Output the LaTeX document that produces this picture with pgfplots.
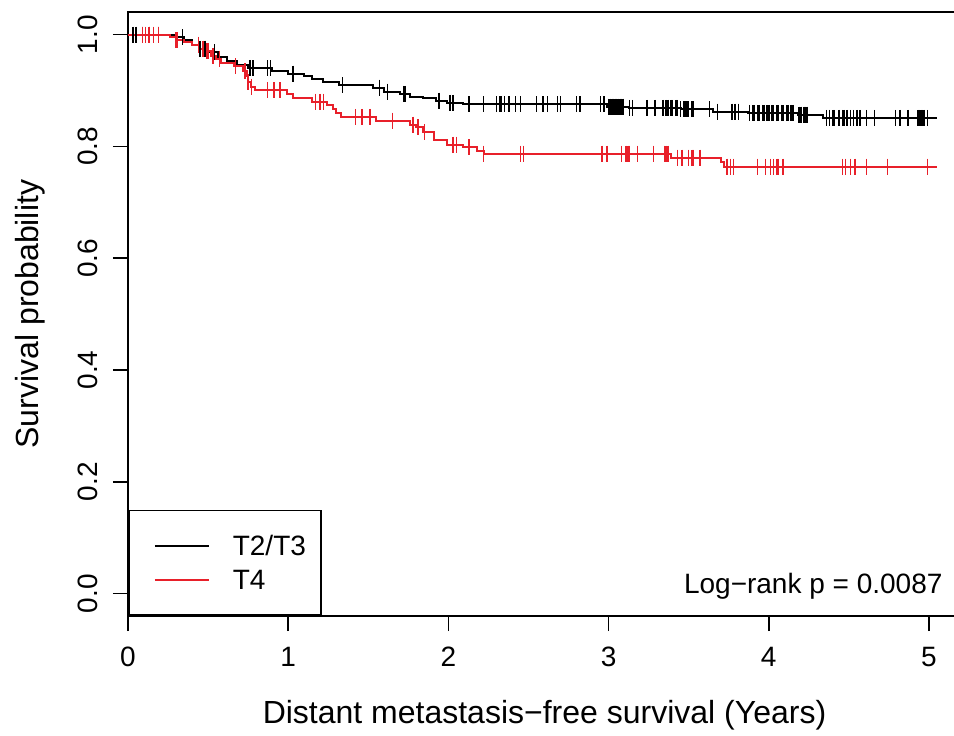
\documentclass[border=0pt]{standalone}
\usepackage{fontspec}
\setmainfont{Liberation Sans}
\usepackage{pgfplots}
\pgfplotsset{compat=1.18}
\definecolor{kmred}{HTML}{E8202A}

\begin{document}
\begin{tikzpicture}
\begin{axis}[name=ax, scale only axis, width=416.5pt, height=301.9pt,
  xmin=0, xmax=5.2, ymin=-0.04, ymax=1.04,
  xtick={0,1,2,3,4,5}, ytick={0,0.2,0.4,0.6,0.8,1.0},
  tick pos=left, tick align=outside, major tick length=7.5pt,
  axis line style={line width=0.8pt}, every tick/.style={black,line width=0.8pt},
  /pgf/number format/assume math mode=true,
  tick label style={font=\fontsize{14}{17}\selectfont},
  yticklabel style={rotate=90, anchor=south, /pgf/number format/.cd, fixed, fixed zerofill, precision=1},
  xticklabel shift=4.5pt, yticklabel shift=4.3pt,
  xlabel={Distant metastasis−free survival (Years)},
  ylabel={Survival probability},
  every axis x label/.style={at={(axis description cs:0.5,-0.164)}, anchor=center, font=\fontsize{16}{19}\selectfont},
  every axis y label/.style={at={(axis description cs:-0.1176,0.5)}, rotate=90, anchor=center, font=\fontsize{16}{19}\selectfont},
  legend style={at={(0,0)}, anchor=south west, draw=black, line width=0.8pt,
    font=\fontsize{14}{17}\selectfont, inner xsep=7.5pt, inner ysep=12.7pt,
    row sep=7pt, column sep=11.5pt,
    nodes={inner sep=0pt, text height=10pt, text depth=0pt}},
  legend cell align=left,
  legend image code/.code={\path (0pt,0pt); \draw[#1,line width=1pt] (5pt,0pt) -- (32pt,0pt);},
]
% T2/T3 curve
\addplot[black, line width=1pt, const plot] coordinates {
(0,1.0) (0.30,0.995) (0.35,0.990) (0.40,0.982) (0.45,0.975) (0.50,0.968)
(0.56,0.960) (0.62,0.952) (0.68,0.945) (0.75,0.940) (0.90,0.935) (1.00,0.930)
(1.10,0.925) (1.15,0.920) (1.22,0.915) (1.32,0.909) (1.53,0.905) (1.60,0.898)
(1.70,0.894) (1.76,0.889) (1.84,0.886) (1.92,0.882) (1.99,0.878) (2.09,0.875)
(2.99,0.871) (3.13,0.869) (3.45,0.866) (3.65,0.862) (3.87,0.860) (4.18,0.857)
(4.34,0.851) (5.05,0.851)};
\addlegendentry{T2/T3}
% T4 curve
\addplot[kmred, line width=1pt, const plot] coordinates {
(0,1.0) (0.26,0.995) (0.30,0.990) (0.35,0.987) (0.40,0.982) (0.45,0.975)
(0.48,0.970) (0.52,0.962) (0.55,0.956) (0.58,0.950) (0.66,0.943) (0.72,0.935)
(0.74,0.925) (0.75,0.915) (0.77,0.907) (0.79,0.900) (0.99,0.893) (1.03,0.887)
(1.15,0.880) (1.24,0.874) (1.28,0.866) (1.30,0.860) (1.33,0.853) (1.55,0.846)
(1.76,0.839) (1.80,0.834) (1.84,0.826) (1.91,0.812) (1.99,0.803) (2.09,0.798)
(2.18,0.791) (2.22,0.787) (3.39,0.780) (3.70,0.772) (3.72,0.764) (5.05,0.764)};
\addlegendentry{T4}
% censoring marks T2/T3
\addplot[forget plot, only marks, mark=|, mark size=4pt, black, mark options={line width=0.8pt}] coordinates {
(0.03,1.0) (0.05,1.0) (0.09,1.0) (0.13,1.0) (0.19,1.0) (0.34,0.995)
(0.45,0.975) (0.48,0.975) (0.54,0.968) (0.76,0.940) (0.78,0.940) (0.87,0.940)
(0.89,0.940) (1.03,0.930) (1.34,0.909) (1.57,0.905) (1.62,0.898) (1.72,0.894)
(1.73,0.894) (1.94,0.882) (2.01,0.878) (2.03,0.878) (2.13,0.875) (2.22,0.875)
(2.30,0.875) (2.32,0.875) (2.33,0.875) (2.35,0.875) (2.38,0.875) (2.42,0.875)
(2.45,0.875) (2.55,0.875) (2.59,0.875) (2.62,0.875) (2.68,0.875) (2.70,0.875)
(2.80,0.875) (2.82,0.875) (2.95,0.875) (2.97,0.875)
(3.00,0.871) (3.01,0.871) (3.02,0.871) (3.03,0.871) (3.04,0.871) (3.05,0.871)
(3.06,0.871) (3.07,0.871) (3.08,0.871) (3.09,0.871)
(3.13,0.869) (3.15,0.869) (3.24,0.869) (3.29,0.869) (3.34,0.869) (3.36,0.869)
(3.37,0.869) (3.39,0.869) (3.40,0.869) (3.42,0.869) (3.43,0.869)
(3.45,0.866) (3.47,0.866) (3.48,0.866) (3.49,0.866) (3.50,0.866) (3.52,0.866)
(3.53,0.866) (3.63,0.866) (3.68,0.862) (3.77,0.862) (3.79,0.862) (3.81,0.862)
(3.88,0.860) (3.90,0.860) (3.91,0.860) (3.93,0.860) (3.94,0.860) (3.96,0.860)
(3.97,0.860) (3.99,0.860) (4.00,0.860) (4.02,0.860) (4.03,0.860) (4.05,0.860)
(4.06,0.860) (4.08,0.860) (4.09,0.860) (4.11,0.860) (4.12,0.860) (4.14,0.860)
(4.15,0.860) (4.19,0.857) (4.20,0.857) (4.22,0.857) (4.23,0.857) (4.24,0.857)
(4.36,0.851) (4.38,0.851) (4.40,0.851) (4.41,0.851) (4.44,0.851) (4.46,0.851)
(4.47,0.851) (4.49,0.851) (4.51,0.851) (4.53,0.851) (4.55,0.851) (4.57,0.851)
(4.61,0.851) (4.66,0.851) (4.79,0.851) (4.82,0.851) (4.87,0.851) (4.93,0.851)
(4.94,0.851) (4.95,0.851) (4.96,0.851) (4.97,0.851) (4.99,0.851)};
% censoring marks T4
\addplot[forget plot, only marks, mark=|, mark size=4pt, kmred, mark options={line width=0.8pt}] coordinates {
(0.09,1.0) (0.11,1.0) (0.13,1.0) (0.16,1.0) (0.19,1.0) (0.30,0.990) (0.31,0.990)
(0.44,0.982) (0.47,0.975) (0.49,0.970) (0.50,0.970) (0.53,0.962) (0.57,0.956)
(0.67,0.943) (0.73,0.935) (0.75,0.915) (0.77,0.907) (0.87,0.900) (0.91,0.900)
(0.95,0.900) (1.17,0.880) (1.20,0.880) (1.22,0.880) (1.42,0.853) (1.46,0.853)
(1.51,0.853) (1.65,0.846) (1.78,0.839) (1.81,0.834) (1.85,0.826) (2.03,0.803)
(2.05,0.803) (2.13,0.798) (2.22,0.787) (2.45,0.787) (2.47,0.787) (2.96,0.787)
(2.99,0.787) (3.08,0.787) (3.11,0.787) (3.12,0.787) (3.13,0.787) (3.18,0.787)
(3.28,0.787) (3.35,0.787) (3.36,0.787) (3.37,0.787)
(3.43,0.780) (3.46,0.780) (3.50,0.780) (3.52,0.780) (3.53,0.780) (3.57,0.780)
(3.74,0.764) (3.76,0.764) (3.78,0.764) (3.93,0.764) (3.98,0.764) (4.01,0.764)
(4.03,0.764) (4.05,0.764) (4.06,0.764) (4.09,0.764) (4.46,0.764) (4.48,0.764)
(4.51,0.764) (4.54,0.764) (4.61,0.764) (4.74,0.764) (4.99,0.764)};
\node[anchor=base east, inner sep=0pt, font=\fontsize{14}{17}\selectfont] at (axis cs:5.087,0) {Log−rank p = 0.0087};
\end{axis}
\pgfresetboundingbox
\path[use as bounding box] ([xshift=-64pt,yshift=-59.5pt]ax.south west) rectangle ([xshift=413pt,yshift=308pt]ax.south west);
\end{tikzpicture}
\end{document}
